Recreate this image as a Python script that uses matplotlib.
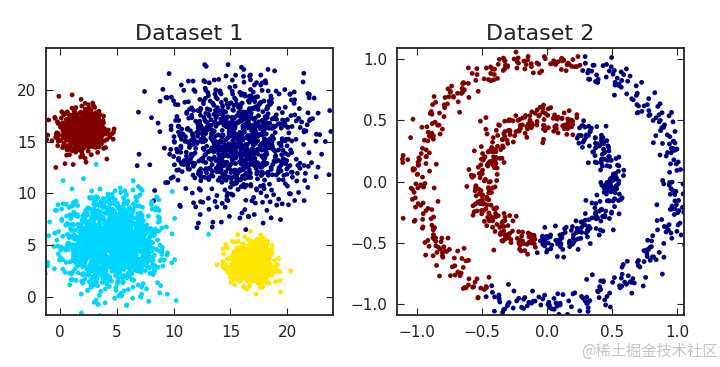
import numpy as np
import matplotlib
matplotlib.use("Agg")
import matplotlib.pyplot as plt

# Dataset 1: four gaussian blobs (centre, spread, point count)
blob_labels = [3, 0, 1, 2]            # jet colour index: dark red, navy, cyan, yellow
blob_centers = [(2.0, 16.0), (15.5, 15.0), (4.6, 5.3), (16.8, 3.3)]
blob_spreads = [1.05, 3.0, 2.1, 1.0]
blob_counts = [600, 1000, 1400, 600]

# Dataset 2: two noisy rings, split into two colour groups by angle
ring_radii = [1.0, 0.5]
ring_counts = [500, 500]
ring_noise = 0.06
ring_red_from = [75.0, 61.0]          # degrees, red arc runs counter-clockwise from here
ring_red_to = [242.0, 261.0]

xticks1 = [0, 5, 10, 15, 20]
yticks1 = [0, 5, 10, 15, 20]
ticks2 = [-1.0, -0.5, 0.0, 0.5, 1.0]

rng = np.random.default_rng(3)

pts1 = []
lab1 = []
for lab, (cx, cy), sd, n in zip(blob_labels, blob_centers, blob_spreads, blob_counts):
    pts1.append(rng.normal([cx, cy], sd, size=(n, 2)))
    lab1.append(np.full(n, lab))
pts1 = np.vstack(pts1)
lab1 = np.concatenate(lab1)

pts2 = []
lab2 = []
for r, n, a0, a1 in zip(ring_radii, ring_counts, ring_red_from, ring_red_to):
    t = np.linspace(0, 2 * np.pi, n, endpoint=False)
    xy = np.column_stack([r * np.cos(t), r * np.sin(t)])
    xy += rng.normal(0, ring_noise, size=xy.shape)
    ang = np.degrees(np.arctan2(xy[:, 1], xy[:, 0])) % 360
    pts2.append(xy)
    lab2.append(np.where((ang >= a0) & (ang <= a1), 1, 0))
pts2 = np.vstack(pts2)
lab2 = np.concatenate(lab2)

plt.rcParams["font.family"] = ["DejaVu Sans"]
text_color = "#222222"

fig = plt.figure(figsize=(7.2, 3.67), dpi=100)
ax1 = fig.add_axes([46 / 720, 52 / 367, 287 / 720, 267 / 367])
ax2 = fig.add_axes([397 / 720, 52 / 367, 287 / 720, 267 / 367])

ax1.scatter(pts1[:, 0], pts1[:, 1], c=lab1, cmap="jet", vmin=0, vmax=3,
            s=12, linewidths=0)
ax1.set_xlim(-1.2, 24.0)
ax1.set_ylim(-1.7, 24.0)
ax1.set_xticks(xticks1)
ax1.set_yticks(yticks1)
ax1.set_title("Dataset 1", fontsize=16, color=text_color, pad=6)

ax2.scatter(pts2[:, 0], pts2[:, 1], c=lab2, cmap="jet", vmin=0, vmax=1,
            s=12, linewidths=0)
ax2.set_xlim(-1.15, 1.05)
ax2.set_ylim(-1.09, 1.09)
ax2.set_xticks(ticks2)
ax2.set_yticks(ticks2)
ax2.set_title("Dataset 2", fontsize=16, color=text_color, pad=6)

for ax in (ax1, ax2):
    ax.tick_params(direction="in", top=True, right=True, length=5,
                   labelsize=11, colors=text_color, pad=7)
    for sp in ax.spines.values():
        sp.set_linewidth(1.3)
        sp.set_color(text_color)

fig.text(0.997, 0.02, "@稀土掘金技术社区", ha="right", va="bottom",
         fontsize=11, color="#c4c4c4",
         family=["Noto Sans CJK SC", "DejaVu Sans"])

fig.savefig("out.png", dpi=100)
